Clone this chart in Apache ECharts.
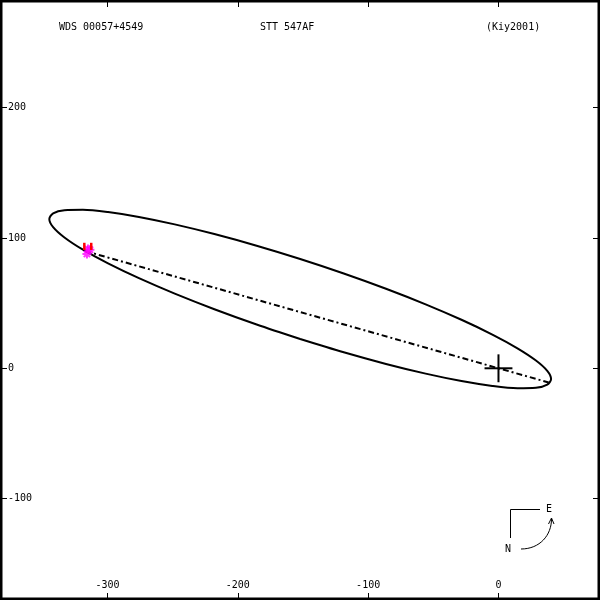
<!DOCTYPE html>
<html><head><meta charset="utf-8">
<script src="https://cdn.jsdelivr.net/npm/echarts@6/dist/echarts.min.js"></script>
<style>html,body{margin:0;padding:0;background:#fff}#c{width:600px;height:600px}</style>
</head><body><div id="c"></div>
<script>
// ---- data ----
const titleLeft = "WDS 00057+4549";
const titleMid = "STT 547AF";
const titleRight = "(Kiy2001)";
const xTicks = [-300, -200, -100, 0];
const yTicks = [-100, 0, 100, 200];
const xRange = [-382.5, 77.9];
const yRange = [-177.8, 282.6];
// apparent orbit, points
const orbitX = [-152.15, -185.57, -218.0, -248.41, -275.90, -299.61, -318.86, -333.05, -341.73, -344.66, -341.73, -333.05, -318.86, -299.61, -275.90, -248.41, -218.0, -185.57, -152.15, -118.73, -86.31, -55.89, -28.40, -4.69, 14.56, 28.75, 37.43, 40.36, 37.43, 28.75, 14.56, -4.69, -28.40, -55.89, -86.31, -118.73, -152.15];
const orbitY = [22.48, 33.61, 45.32, 57.28, 69.12, 80.46, 90.98, 100.35, 108.29, 114.55, 118.95, 121.35, 121.68, 119.92, 116.14, 110.44, 103.0, 94.05, 83.86, 72.73, 61.02, 49.06, 37.22, 25.88, 15.36, 5.99, -1.95, -8.21, -12.61, -15.01, -15.34, -13.58, -9.80, -4.10, 3.34, 12.29, 22.48];
// line of nodes
const nodesX = [-317, 38.5];
const nodesY = [89.9, -10.9];
// observations
const obsX = [-315.0, -313.5, -315.8];
const obsY = [91.5, 91.0, 87.7];
// O-C residual segments
const ocX1 = [-317.8, -312.5];
const ocY1 = [96.3, 96.3];
const ocX2 = [-317.8, -312.5];
const ocY2 = [90.8, 90.8];
// primary cross half-size
const crossHalf = 10.7;

const zip = (a, b) => a.map((v, i) => [v, b[i]]);
const font = "DejaVu Sans Mono";
const star = 'path://M5,0L5,10M0,5L10,5M1.5,1.5L8.5,8.5M8.5,1.5L1.5,8.5';

const ocSeries = ocX1.map((x, i) => ({
  type: 'line', data: [[x, ocY1[i]], [ocX2[i], ocY2[i]]], showSymbol: false, silent: true,
  lineStyle: { color: '#ff0000', width: 2.5 }, z: 6
}));

const tStyle = { fontFamily: font, fontSize: 10, fontWeight: 'normal', color: '#000' };
const chart = echarts.init(document.getElementById('c'), null, { renderer: 'canvas' });
chart.setOption({
  animation: false,
  backgroundColor: '#fff',
  title: [
    { text: titleLeft, left: 59, top: 22, padding: 0, textStyle: tStyle },
    { text: titleMid, left: 260, top: 22, padding: 0, textStyle: tStyle },
    { text: titleRight, left: 486, top: 22, padding: 0, textStyle: tStyle }
  ],
  grid: { left: 0, right: 0, top: 0, bottom: 0, show: true, borderColor: '#000', borderWidth: 5, backgroundColor: 'transparent' },
  xAxis: [
    { type: 'value', position: 'bottom', min: xRange[0], max: xRange[1],
      axisLine: { show: false, onZero: false }, splitLine: { show: false },
      axisTick: { inside: true, length: 7, lineStyle: { color: '#000', width: 1 }, customValues: xTicks },
      axisLabel: { inside: true, margin: 10, fontFamily: font, fontSize: 10, color: '#000', customValues: xTicks } },
    { type: 'value', position: 'top', min: xRange[0], max: xRange[1],
      axisLine: { show: false, onZero: false }, splitLine: { show: false },
      axisTick: { inside: true, length: 7, lineStyle: { color: '#000', width: 1 }, customValues: xTicks },
      axisLabel: { show: false } }
  ],
  yAxis: [
    { type: 'value', position: 'left', min: yRange[0], max: yRange[1],
      axisLine: { show: false, onZero: false }, splitLine: { show: false },
      axisTick: { inside: true, length: 7, lineStyle: { color: '#000', width: 1 }, customValues: yTicks },
      axisLabel: { inside: true, margin: 8, fontFamily: font, fontSize: 10, color: '#000', customValues: yTicks } },
    { type: 'value', position: 'right', min: yRange[0], max: yRange[1],
      axisLine: { show: false, onZero: false }, splitLine: { show: false },
      axisTick: { inside: true, length: 7, lineStyle: { color: '#000', width: 1 }, customValues: yTicks },
      axisLabel: { show: false } }
  ],
  series: [
    { type: 'line', data: zip(orbitX, orbitY), showSymbol: false, smooth: 0.3, silent: true,
      lineStyle: { color: '#000', width: 2 }, z: 2 },
    { type: 'line', data: zip(nodesX, nodesY), showSymbol: false, silent: true,
      lineStyle: { color: '#000', width: 2, type: [6, 3, 2, 3] }, z: 2 },
    { type: 'line', data: [[-crossHalf, 0], [crossHalf, 0]], showSymbol: false, silent: true,
      lineStyle: { color: '#000', width: 2 }, z: 3 },
    { type: 'line', data: [[0, -crossHalf], [0, crossHalf]], showSymbol: false, silent: true,
      lineStyle: { color: '#000', width: 2 }, z: 3 },
    { type: 'scatter', data: zip(obsX, obsY), symbol: star, symbolSize: 9, silent: true,
      itemStyle: { color: '#ff00ff', borderColor: '#ff00ff', borderWidth: 2 }, z: 5 },
    ...ocSeries
  ],
  graphic: [
    { type: 'polyline', shape: { points: [[540, 509.5], [510.5, 509.5], [510.5, 538]] }, style: { stroke: '#000', lineWidth: 1, fill: null } },
    { type: 'text', x: 549, y: 509, style: { text: 'E', font: '10px "DejaVu Sans Mono"', fill: '#000', align: 'center', verticalAlign: 'middle' } },
    { type: 'text', x: 508, y: 549, style: { text: 'N', font: '10px "DejaVu Sans Mono"', fill: '#000', align: 'center', verticalAlign: 'middle' } },
    { type: 'bezierCurve', shape: { x1: 521, y1: 549, x2: 551.5, y2: 519, cpx1: 540, cpy1: 549, cpx2: 551.5, cpy2: 535 }, style: { stroke: '#000', lineWidth: 1, fill: null } },
    { type: 'polyline', shape: { points: [[548.5, 524], [551.5, 518], [554, 524]] }, style: { stroke: '#000', lineWidth: 1, fill: null } }
  ]
});
</script></body></html>
